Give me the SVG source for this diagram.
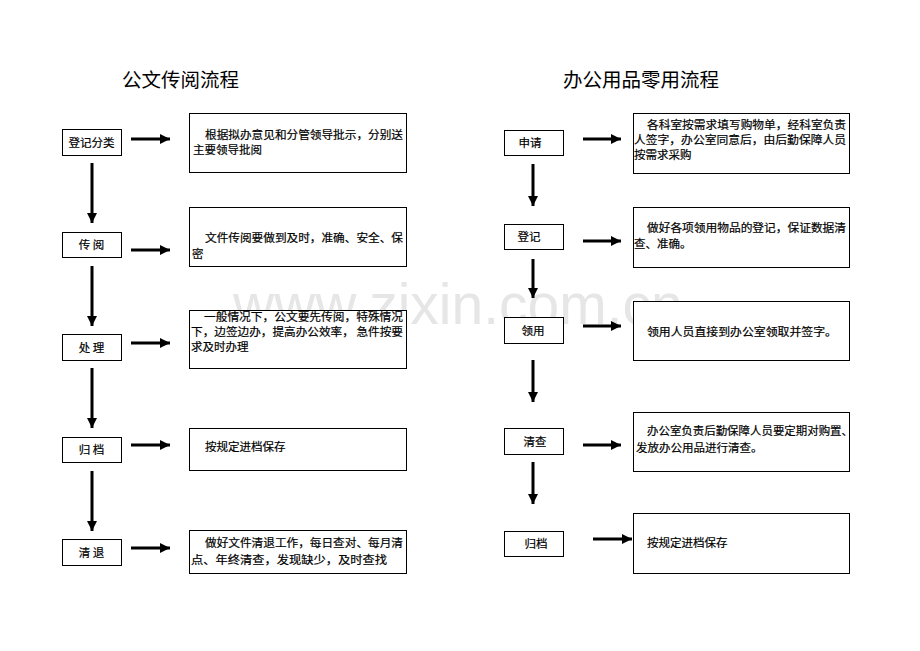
<svg xmlns="http://www.w3.org/2000/svg" width="920" height="651" viewBox="0 0 920 651">
<style>
.bg{fill:#ffffff}
.wm{font-family:"Liberation Sans",Arial,sans-serif;font-size:57px;fill:#e6e6e6}
.title{font-family:"Noto Sans CJK SC","Noto Sans",sans-serif;font-size:19.5px;fill:#000}
.box{fill:#ffffff;stroke:#000;stroke-width:1}
.lbl{font-family:"Noto Sans CJK SC","Noto Sans",sans-serif;font-size:11.5px;fill:#000;stroke:#000;stroke-width:0.2;text-anchor:middle}
.txt{font-family:"Noto Sans CJK SC","Noto Sans",sans-serif;font-size:11.5px;fill:#000;stroke:#000;stroke-width:0.2}
.conn{stroke:#000;stroke-width:3;fill:none;marker-end:url(#ah)}
</style>
<defs>
<marker id="ah" markerUnits="userSpaceOnUse" markerWidth="11" markerHeight="11" refX="10" refY="5" orient="auto">
<path d="M0,0 L10,5 L0,10 Z" fill="#000"/>
</marker>
</defs>
<rect class="bg" x="0" y="0" width="920" height="651"/>
<text class="wm" x="233" y="324">www.zixin.com.cn</text>
<text class="title" x="122" y="87">公文传阅流程</text>
<text class="title" x="563" y="87">办公用品零用流程</text>

<g id="connectors">
<line class="conn" x1="131" y1="139" x2="170" y2="139"/>
<line class="conn" x1="131" y1="250" x2="170" y2="250"/>
<line class="conn" x1="131" y1="343" x2="170" y2="343"/>
<line class="conn" x1="131" y1="445" x2="170" y2="445"/>
<line class="conn" x1="131" y1="548" x2="170" y2="548"/>
<line class="conn" x1="92" y1="163" x2="92" y2="223"/>
<line class="conn" x1="92" y1="266" x2="92" y2="326"/>
<line class="conn" x1="92" y1="368" x2="92" y2="428"/>
<line class="conn" x1="92" y1="471" x2="92" y2="531"/>
<line class="conn" x1="583" y1="139" x2="621" y2="139"/>
<line class="conn" x1="583" y1="241" x2="621" y2="241"/>
<line class="conn" x1="583" y1="326" x2="621" y2="326"/>
<line class="conn" x1="583" y1="445" x2="621" y2="445"/>
<line class="conn" x1="593" y1="539" x2="632" y2="539"/>
<line class="conn" x1="533" y1="164" x2="533" y2="206"/>
<line class="conn" x1="533" y1="259" x2="533" y2="298"/>
<line class="conn" x1="533" y1="360" x2="533" y2="402"/>
<line class="conn" x1="533" y1="462" x2="533" y2="504"/>
</g>

<g id="node-dengjifenlei"><rect class="box" x="62.5" y="129.5" width="59" height="26"/><text class="lbl" x="91.5" y="147">登记分类</text></g>
<g id="node-chuanyue"><rect class="box" x="62.5" y="232.5" width="59" height="25"/><text class="lbl" x="91.5" y="249">传 阅</text></g>
<g id="node-chuli"><rect class="box" x="62.5" y="334.5" width="59" height="26"/><text class="lbl" x="91.5" y="352">处 理</text></g>
<g id="node-guidang-l"><rect class="box" x="62.5" y="437.5" width="59" height="25"/><text class="lbl" x="91.5" y="454">归 档</text></g>
<g id="node-qingtui"><rect class="box" x="62.5" y="539.5" width="59" height="26"/><text class="lbl" x="91.5" y="557">清 退</text></g>

<g id="desc-l1"><rect class="box" x="189.5" y="113.5" width="217" height="59"/>
<text class="txt" x="205" y="139" textLength="198" lengthAdjust="spacingAndGlyphs">根据拟办意见和分管领导批示，分别送</text>
<text class="txt" x="193" y="154">主要领导批阅</text></g>
<g id="desc-l2"><rect class="box" x="189.5" y="207.5" width="217" height="59"/>
<text class="txt" x="205" y="242" textLength="198" lengthAdjust="spacingAndGlyphs">文件传阅要做到及时，准确、安全、保</text>
<text class="txt" x="192" y="258">密</text></g>
<g id="desc-l3"><rect class="box" x="189.5" y="310.5" width="217" height="58"/>
<text class="txt" x="204" y="321" textLength="199" lengthAdjust="spacingAndGlyphs">一般情况下，公文要先传阅，特殊情况</text>
<text class="txt" x="191" y="336" textLength="212" lengthAdjust="spacingAndGlyphs">下，边签边办，提高办公效率， 急件按要</text>
<text class="txt" x="191" y="351">求及时办理</text></g>
<g id="desc-l4"><rect class="box" x="189.5" y="428.5" width="217" height="42"/>
<text class="txt" x="205" y="451">按规定进档保存</text></g>
<g id="desc-l5"><rect class="box" x="189.5" y="530.5" width="217" height="43"/>
<text class="txt" x="205" y="547" textLength="198" lengthAdjust="spacingAndGlyphs">做好文件清退工作，每日查对、每月清</text>
<text class="txt" x="191" y="564" textLength="196" lengthAdjust="spacingAndGlyphs">点、年终清查，发现缺少，及时查找</text></g>

<g id="node-shenqing"><rect class="box" x="504.5" y="130.5" width="59" height="25"/><text class="lbl" x="530" y="147">申请</text></g>
<g id="node-dengji"><rect class="box" x="504.5" y="224.5" width="59" height="25"/><text class="lbl" x="529" y="241">登记</text></g>
<g id="node-lingyong"><rect class="box" x="504.5" y="317.5" width="59" height="26"/><text class="lbl" x="533" y="335">领用</text></g>
<g id="node-qingcha"><rect class="box" x="504.5" y="428.5" width="59" height="26"/><text class="lbl" x="535" y="446">清查</text></g>
<g id="node-guidang-r"><rect class="box" x="504.5" y="531.5" width="59" height="25"/><text class="lbl" x="536" y="548">归档</text></g>

<g id="desc-r1"><rect class="box" x="633.5" y="113.5" width="216" height="60"/>
<text class="txt" x="647" y="129" textLength="199" lengthAdjust="spacingAndGlyphs">各科室按需求填写购物单，经科室负责</text>
<text class="txt" x="634" y="144" textLength="212" lengthAdjust="spacingAndGlyphs">人签字，办公室同意后，由后勤保障人员</text>
<text class="txt" x="634" y="159">按需求采购</text></g>
<g id="desc-r2"><rect class="box" x="633.5" y="207.5" width="216" height="60"/>
<text class="txt" x="647" y="232" textLength="199" lengthAdjust="spacingAndGlyphs">做好各项领用物品的登记，保证数据清</text>
<text class="txt" x="634" y="248">查、准确。</text></g>
<g id="desc-r3"><rect class="box" x="633.5" y="301.5" width="216" height="59"/>
<text class="txt" x="647" y="336" textLength="190" lengthAdjust="spacingAndGlyphs">领用人员直接到办公室领取并签字。</text></g>
<g id="desc-r4"><rect class="box" x="633.5" y="412.5" width="216" height="59"/>
<text class="txt" x="647" y="435" textLength="206" lengthAdjust="spacingAndGlyphs">办公室负责后勤保障人员要定期对购置、</text>
<text class="txt" x="636" y="452">发放办公用品进行清查。</text></g>
<g id="desc-r5"><rect class="box" x="633.5" y="513.5" width="216" height="60"/>
<text class="txt" x="647" y="547">按规定进档保存</text></g>
</svg>
